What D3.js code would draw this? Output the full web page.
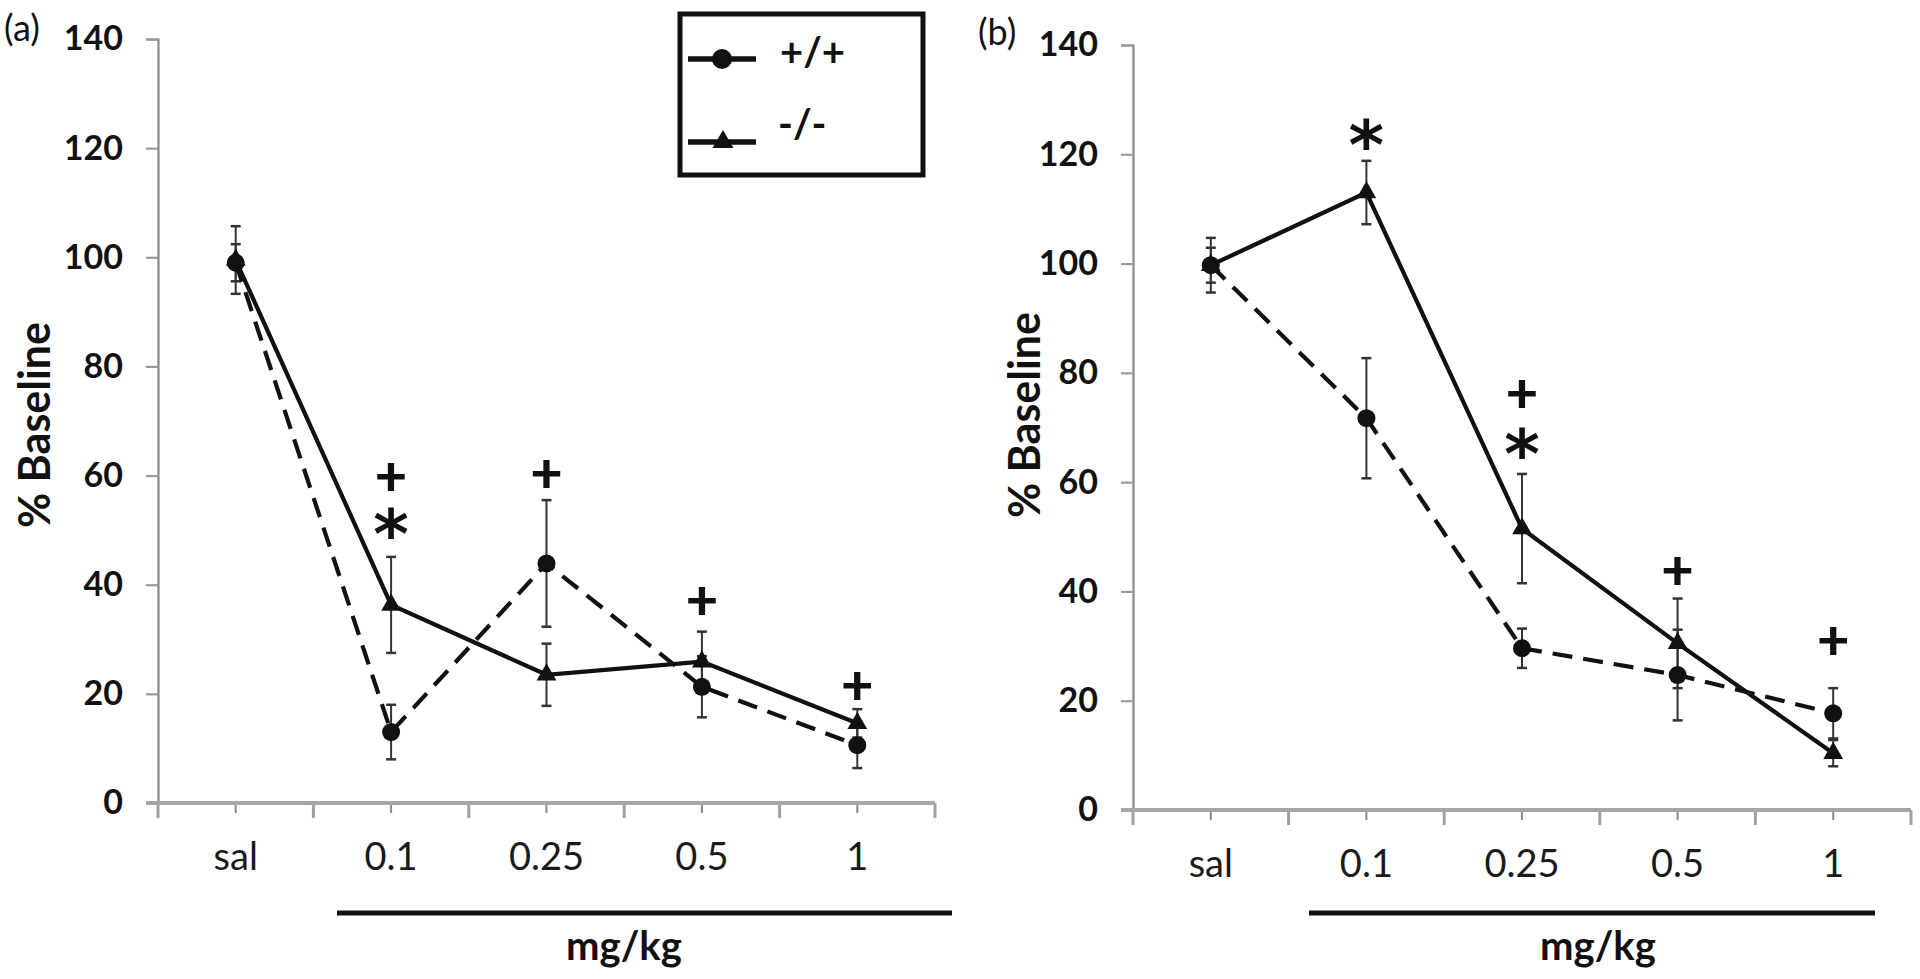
<!DOCTYPE html>
<html>
<head>
<meta charset="utf-8">
<script src="https://cdn.jsdelivr.net/npm/d3@7"></script>
<style>
  html, body { margin: 0; padding: 0; background: #fff; }
  svg { display: block; }
</style>
</head>
<body>
<svg id="chart" width="1920" height="979"></svg>
<script>
// ---------- data ----------
const categories = ["sal", "0.1", "0.25", "0.5", "1"];
const yTicks = [0, 20, 40, 60, 80, 100, 120, 140];
const seriesNames = ["+/+", "-/-"];

// Panel (a)
const wtA    = [99.0, 13.0, 43.9, 21.3, 10.6];
const wtErrA = [3.4, 5.0, 11.6, 5.6, 4.2];
const koA    = [99.5, 36.3, 23.5, 25.9, 14.6];
const koErrA = [6.2, 8.8, 5.7, 5.5, 2.6];
const annCatA = ["0.1", "0.1", "0.25", "0.5", "1"];
const annSymA = ["+", "*", "+", "+", "+"];
const annValA = [59.6, 51.3, 60.1, 36.9, 21.3];

// Panel (b)
const wtB    = [99.7, 71.7, 29.6, 24.7, 17.7];
const wtErrB = [3.2, 11.0, 3.6, 8.3, 4.6];
const koB    = [99.7, 113.0, 51.5, 30.5, 10.4];
const koErrB = [5.0, 5.8, 10.0, 8.2, 2.4];
const annCatB = ["0.1", "0.25", "0.25", "0.5", "1"];
const annSymB = ["*", "+", "*", "+", "+"];
const annValB = [123.8, 76.0, 67.1, 43.6, 30.8];

// ---------- drawing ----------
const svg = d3.select("#chart");
const FONT = "Lato, 'Open Sans', sans-serif";

function drawPanel(p) {
  const g = svg.append("g");
  const x = d3.scaleBand().domain(categories).range([p.x0, p.x1]).padding(0);
  const y = d3.scaleLinear().domain([0, 140]).range([p.yBottom, p.yTop]);
  const cx = c => x(c) + x.bandwidth() / 2;

  // y axis
  const yAxis = g.append("g")
    .attr("transform", `translate(${p.x0},0)`)
    .call(d3.axisLeft(y).tickValues(yTicks).tickSize(12).tickPadding(23).tickFormat(d3.format("d")));
  yAxis.select(".domain").attr("stroke", "#8a8a8a").attr("stroke-width", 2.2);
  yAxis.selectAll(".tick line").attr("stroke", "#9a9a9a").attr("stroke-width", 2.2);
  yAxis.selectAll(".tick text")
    .attr("font-family", FONT)
    .attr("font-weight", 700).attr("font-size", 34).attr("fill", "#111");

  // x axis: center ticks + labels
  const xAxis = g.append("g")
    .attr("transform", `translate(0,${p.yBottom})`)
    .call(d3.axisBottom(x).tickSize(10).tickPadding(30));
  xAxis.select(".domain").remove();
  xAxis.selectAll(".tick line").attr("stroke", "#8a8a8a").attr("stroke-width", 2);
  xAxis.selectAll(".tick text")
    .attr("font-family", FONT)
    .attr("font-weight", 400).attr("font-size", 38).attr("fill", "#1a1a1a");
  // boundary ticks
  const bounds = categories.map(c => x(c)).concat([p.x1]);
  g.selectAll(".btick").data(bounds).enter().append("line")
    .attr("x1", d => d).attr("x2", d => d)
    .attr("y1", p.yBottom).attr("y2", p.yBottom + 15)
    .attr("stroke", "#a0a0a0").attr("stroke-width", 3);
  // x axis line (extends left past y axis)
  g.append("line")
    .attr("x1", p.x0 - 12).attr("x2", p.x1)
    .attr("y1", p.yBottom).attr("y2", p.yBottom)
    .attr("stroke", "#a5a5a5").attr("stroke-width", 4);

  // y axis title
  g.append("text")
    .attr("transform", `translate(${p.titleX},${p.titleY}) rotate(-90)`)
    .attr("text-anchor", "middle")
    .attr("font-family", FONT)
    .attr("font-weight", 700).attr("font-size", 43).attr("fill", "#111")
    .text("% Baseline");

  // panel letter
  g.append("text")
    .attr("x", p.letterX).attr("y", p.letterY)
    .attr("font-family", FONT)
    .attr("font-weight", 400).attr("font-size", 36).attr("fill", "#111")
    .text(p.letter);

  // dose bracket + unit
  g.append("line")
    .attr("x1", p.brX1).attr("x2", p.brX2)
    .attr("y1", 913).attr("y2", 913)
    .attr("stroke", "#111").attr("stroke-width", 5);
  g.append("text")
    .attr("x", p.unitX).attr("y", 960)
    .attr("text-anchor", "middle")
    .attr("font-family", FONT)
    .attr("font-weight", 700).attr("font-size", 40).attr("fill", "#111")
    .text("mg/kg");

  const series = [
    { vals: p.wt, errs: p.wtErr, dash: "20,11", marker: "circle" },
    { vals: p.ko, errs: p.koErr, dash: null, marker: "triangle" }
  ];

  // error bars
  series.forEach(s => {
    const eg = g.append("g");
    categories.forEach((c, i) => {
      const lo = y(s.vals[i] - s.errs[i]), hi = y(s.vals[i] + s.errs[i]);
      eg.append("line").attr("x1", cx(c)).attr("x2", cx(c)).attr("y1", lo).attr("y2", hi)
        .attr("stroke", "#333").attr("stroke-width", 2);
      [lo, hi].forEach(yy => eg.append("line")
        .attr("x1", cx(c) - 5).attr("x2", cx(c) + 5).attr("y1", yy).attr("y2", yy)
        .attr("stroke", "#333").attr("stroke-width", 2.5));
    });
  });

  // lines
  const line = d3.line().x((d, i) => cx(categories[i])).y(d => y(d));
  series.forEach(s => {
    g.append("path").datum(s.vals)
      .attr("d", line)
      .attr("fill", "none").attr("stroke", "#111").attr("stroke-width", 4.2)
      .attr("stroke-dasharray", s.dash);
  });

  // markers
  series.forEach(s => {
    categories.forEach((c, i) => {
      if (s.marker === "circle") {
        g.append("circle").attr("cx", cx(c)).attr("cy", y(s.vals[i])).attr("r", 9).attr("fill", "#111");
      } else {
        g.append("path").attr("d", d3.symbol(d3.symbolTriangle, 170)())
          .attr("transform", `translate(${cx(c)},${y(s.vals[i])})`).attr("fill", "#111");
      }
    });
  });

  // significance symbols: one text per dose, one tspan per symbol
  const annCats = categories.filter(c => p.annCat.includes(c));
  annCats.forEach(c => {
    const t = g.append("text").attr("text-anchor", "middle").attr("fill", "#111");
    p.annCat.forEach((cc, i) => {
      if (cc !== c) return;
      const sym = p.annSym[i];
      const ts = t.append("tspan").attr("x", cx(c)).text(sym);
      if (sym === "+") {
        ts.attr("y", y(p.annVal[i]) + 18)
          .attr("font-family", FONT).attr("font-weight", 900).attr("font-size", 56);
      } else {
        ts.attr("y", y(p.annVal[i]) + 35)
          .attr("font-family", "'DejaVu Sans', sans-serif").attr("font-weight", 700).attr("font-size", 68);
      }
    });
  });
}

drawPanel({
  letter: "(a)", letterX: 4, letterY: 41,
  x0: 158, x1: 935, yBottom: 803, yTop: 39,
  titleX: 50, titleY: 425,
  brX1: 337, brX2: 952, unitX: 624,
  wt: wtA, wtErr: wtErrA, ko: koA, koErr: koErrA,
  annCat: annCatA, annSym: annSymA, annVal: annValA
});
drawPanel({
  letter: "(b)", letterX: 978, letterY: 45,
  x0: 1133, x1: 1911, yBottom: 810, yTop: 45,
  titleX: 1040, titleY: 415,
  brX1: 1309, brX2: 1875, unitX: 1598,
  wt: wtB, wtErr: wtErrB, ko: koB, koErr: koErrB,
  annCat: annCatB, annSym: annSymB, annVal: annValB
});

// legend
const lg = svg.append("g");
lg.append("rect").attr("x", 680).attr("y", 14).attr("width", 243).attr("height", 161)
  .attr("fill", "#fff").attr("stroke", "#111").attr("stroke-width", 5);
const legendY = [59, 142];
const legendTextY = [66, 138];
const legendTextX = [780, 778];
seriesNames.forEach((name, i) => {
  lg.append("line").attr("x1", 688).attr("x2", 756).attr("y1", legendY[i]).attr("y2", legendY[i])
    .attr("stroke", "#111").attr("stroke-width", 5.5);
  if (i === 0) {
    lg.append("circle").attr("cx", 722).attr("cy", legendY[i]).attr("r", 10).attr("fill", "#111");
  } else {
    lg.append("path").attr("d", d3.symbol(d3.symbolTriangle, 190)())
      .attr("transform", `translate(723,${legendY[i]})`).attr("fill", "#111");
  }
  lg.append("text").attr("x", legendTextX[i]).attr("y", legendTextY[i])
    .attr("font-family", FONT).attr("font-weight", 700).attr("font-size", 40)
    .attr("fill", "#111").text(name);
});
</script>
</body>
</html>
